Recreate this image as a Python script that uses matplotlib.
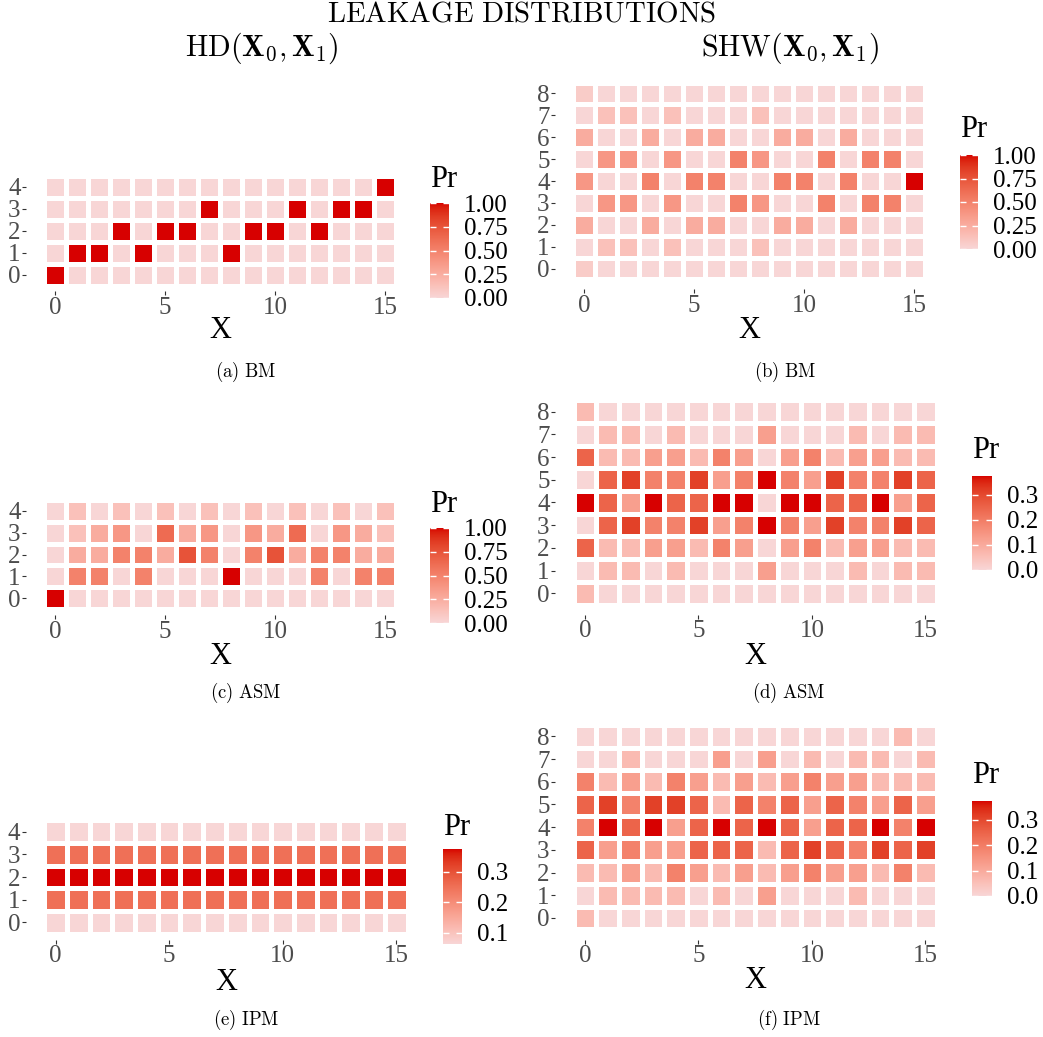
import numpy as np
import matplotlib
matplotlib.use("Agg")
import matplotlib.pyplot as plt
from matplotlib.colors import ListedColormap, Normalize
from matplotlib.colorbar import ColorbarBase

plt.rcParams['mathtext.fontset'] = 'cm'
plt.rcParams['font.family'] = ['Liberation Serif', 'DejaVu Serif']

# ---------------- data ----------------
x_values = list(range(16))
x_ticks = [0, 5, 10, 15]

hd_bm = [
    [1, 0, 0, 0, 0, 0, 0, 0, 0, 0, 0, 0, 0, 0, 0, 0],
    [0, 1, 1, 0, 1, 0, 0, 0, 1, 0, 0, 0, 0, 0, 0, 0],
    [0, 0, 0, 1, 0, 1, 1, 0, 0, 1, 1, 0, 1, 0, 0, 0],
    [0, 0, 0, 0, 0, 0, 0, 1, 0, 0, 0, 1, 0, 1, 1, 0],
    [0, 0, 0, 0, 0, 0, 0, 0, 0, 0, 0, 0, 0, 0, 0, 1],
]

shw_bm = [
    [.0625, 0, 0, 0, 0, 0, 0, 0, 0, 0, 0, 0, 0, 0, 0, 0],
    [0, .125, .125, 0, .125, 0, 0, 0, .125, 0, 0, 0, 0, 0, 0, 0],
    [.25, 0, 0, .25, 0, .25, .25, 0, 0, .25, .25, 0, .25, 0, 0, 0],
    [0, .375, .375, 0, .375, 0, 0, .5, .375, 0, 0, .5, 0, .5, .5, 0],
    [.375, 0, 0, .5, 0, .5, .5, 0, 0, .5, .5, 0, .5, 0, 0, 1],
    [0, .375, .375, 0, .375, 0, 0, .5, .375, 0, 0, .5, 0, .5, .5, 0],
    [.25, 0, 0, .25, 0, .25, .25, 0, 0, .25, .25, 0, .25, 0, 0, 0],
    [0, .125, .125, 0, .125, 0, 0, 0, .125, 0, 0, 0, 0, 0, 0, 0],
    [.0625, 0, 0, 0, 0, 0, 0, 0, 0, 0, 0, 0, 0, 0, 0, 0],
]

hd_asm = [
    [1, 0, 0, 0, 0, 0, 0, 0, 0, 0, 0, 0, 0, 0, 0, 0],
    [0, .5, .5, 0, .5, 0, 0, 0, 1, 0, 0, 0, .5, 0, .5, .5],
    [0, .25, .25, .5, .5, .25, .75, .5, 0, .5, .75, .25, .5, .5, .25, .25],
    [0, .125, .25, .375, 0, .625, .25, .375, 0, .375, .25, .625, 0, .375, .25, .125],
    [0, .125, 0, .125, 0, .125, 0, .125, 0, .125, 0, .125, 0, .125, 0, .125],
]

shw_asm = [
    [.0625, 0, 0, 0, 0, 0, 0, 0, 0, 0, 0, 0, 0, 0, 0, 0],
    [0, .0625, .0625, 0, .0625, 0, 0, 0, .125, 0, 0, 0, .0625, 0, .0625, .0625],
    [.25, .0625, .0625, .125, .125, .0625, .1875, .125, 0, .125, .1875, .0625, .125, .125, .0625, .0625],
    [0, .25, .3125, .1875, .1875, .3125, .125, .1875, .375, .1875, .125, .3125, .1875, .1875, .3125, .25],
    [.375, .25, .125, .375, .25, .25, .375, .375, 0, .375, .375, .25, .25, .375, .125, .25],
    [0, .25, .3125, .1875, .1875, .3125, .125, .1875, .375, .1875, .125, .3125, .1875, .1875, .3125, .25],
    [.25, .0625, .0625, .125, .125, .0625, .1875, .125, 0, .125, .1875, .0625, .125, .125, .0625, .0625],
    [0, .0625, .0625, 0, .0625, 0, 0, 0, .125, 0, 0, 0, .0625, 0, .0625, .0625],
    [.0625, 0, 0, 0, 0, 0, 0, 0, 0, 0, 0, 0, 0, 0, 0, 0],
]

hd_ipm = [
    [.0625, .0625, .0625, .0625, .0625, .0625, .0625, .0625, .0625, .0625, .0625, .0625, .0625, .0625, .0625, .0625],
    [.25, .25, .25, .25, .25, .25, .25, .25, .25, .25, .25, .25, .25, .25, .25, .25],
    [.375, .375, .375, .375, .375, .375, .375, .375, .375, .375, .375, .375, .375, .375, .375, .375],
    [.25, .25, .25, .25, .25, .25, .25, .25, .25, .25, .25, .25, .25, .25, .25, .25],
    [.0625, .0625, .0625, .0625, .0625, .0625, .0625, .0625, .0625, .0625, .0625, .0625, .0625, .0625, .0625, .0625],
]

shw_ipm = [
    [.0625, 0, 0, 0, 0, 0, 0, 0, 0, 0, 0, 0, 0, 0, 0, 0],
    [0, .0625, .0625, .0625, .0625, 0, .0625, 0, .125, 0, 0, 0, .0625, 0, 0, 0],
    [.0625, .0625, .125, .0625, .1875, .125, .0625, .125, .0625, .125, .1875, .125, .125, .0625, .1875, .0625],
    [.25, .125, .1875, .125, .125, .25, .25, .25, .0625, .25, .3125, .25, .1875, .3125, .25, .3125],
    [.1875, .375, .25, .375, .125, .25, .375, .25, .375, .25, .125, .25, .25, .375, .1875, .375],
    [.25, .3125, .1875, .3125, .3125, .25, .0625, .25, .1875, .25, .125, .25, .1875, .125, .25, .125],
    [.1875, .0625, .125, .0625, .1875, .125, .0625, .125, .0625, .125, .1875, .125, .125, .0625, .0625, .0625],
    [0, 0, .0625, 0, 0, 0, .125, 0, .125, 0, .0625, 0, .0625, .0625, 0, .0625],
    [0, 0, 0, 0, 0, 0, 0, 0, 0, 0, 0, 0, 0, 0, .0625, 0],
]

cb_ticks_100 = [0, 0.25, 0.5, 0.75, 1.0]
cb_labels_100 = ["0.00", "0.25", "0.50", "0.75", "1.00"]
cb_ticks_03 = [0, 0.1, 0.2, 0.3]
cb_labels_03 = ["0.0", "0.1", "0.2", "0.3"]
cb_ticks_e = [0.1, 0.2, 0.3]
cb_labels_e = ["0.1", "0.2", "0.3"]

caption_letters = ["a", "b", "c", "d", "e", "f"]
caption_names = ["BM", "BM", "ASM", "ASM", "IPM", "IPM"]

# ---------------- colour map (Lab interpolation like ggplot) ----------------
def _srgb_to_lin(c):
    c = np.asarray(c, float)
    return np.where(c <= 0.04045, c / 12.92, ((c + 0.055) / 1.055) ** 2.4)

def _lin_to_srgb(c):
    c = np.clip(c, 0, 1)
    return np.where(c <= 0.0031308, 12.92 * c, 1.055 * c ** (1 / 2.4) - 0.055)

M = np.array([[0.4124, 0.3576, 0.1805], [0.2126, 0.7152, 0.0722], [0.0193, 0.1192, 0.9505]])
WP = np.array([0.95047, 1.0, 1.08883])

def rgb2lab(rgb):
    xyz = M @ _srgb_to_lin(rgb) / WP
    f = np.where(xyz > 216 / 24389, np.cbrt(xyz), (24389 / 27 * xyz + 16) / 116)
    return np.array([116 * f[1] - 16, 500 * (f[0] - f[1]), 200 * (f[1] - f[2])])

def lab2rgb(lab):
    L, a, b = lab
    fy = (L + 16) / 116
    fx = fy + a / 500
    fz = fy - b / 200
    f = np.array([fx, fy, fz])
    xyz = np.where(f ** 3 > 216 / 24389, f ** 3, (116 * f - 16) / (24389 / 27)) * WP
    return _lin_to_srgb(np.linalg.solve(M, xyz))

low = np.array([248, 214, 214]) / 255
high = np.array([215, 0, 0]) / 255
la, lb = rgb2lab(low), rgb2lab(high)
cols = [lab2rgb(la + (lb - la) * t) for t in np.linspace(0, 1, 256)]
cmap = ListedColormap(np.clip(cols, 0, 1))

# ---------------- figure ----------------
W, H = 1043, 1037
fig = plt.figure(figsize=(W / 100, H / 100), dpi=100)

def px_axes(l, t, r, b):
    return fig.add_axes([l / W, 1 - b / H, (r - l) / W, (b - t) / H])

panels = [
    dict(data=hd_bm, ax=(26.4, 170, 413.6, 291), cb=(430, 203, 449, 298), pr=(430, 187),
         xl=(220, 331), cap=(246, 372), ct=(cb_ticks_100, cb_labels_100)),
    dict(data=shw_bm, ax=(555.2, 72.7, 942.5, 289.3), cb=(960, 155, 978, 249), pr=(960, 137),
         xl=(749, 330), cap=(785, 372), ct=(cb_ticks_100, cb_labels_100)),
    dict(data=hd_asm, ax=(26.4, 494.1, 413.6, 614.9), cb=(430, 528, 449, 623), pr=(430, 512),
         xl=(220, 657), cap=(246, 693), ct=(cb_ticks_100, cb_labels_100)),
    dict(data=shw_asm, ax=(555.4, 390.1, 955, 614.8), cb=(972, 476, 992, 570), pr=(972, 458),
         xl=(755, 657), cap=(789, 693), ct=(cb_ticks_03, cb_labels_03)),
    dict(data=hd_ipm, ax=(26.1, 814.6, 425.7, 939.5), cb=(443, 849, 462, 944), pr=(443, 835),
         xl=(226, 983), cap=(246, 1020), ct=(cb_ticks_e, cb_labels_e)),
    dict(data=shw_ipm, ax=(555.4, 714.8, 955, 939.5), cb=(972, 801, 992, 896), pr=(972, 783),
         xl=(755, 981), cap=(789, 1020), ct=(cb_ticks_03, cb_labels_03)),
]

tick_fs = 18
for i, p in enumerate(panels):
    Z = np.array(p["data"], float)
    ny = Z.shape[0]
    norm = Normalize(vmin=Z.min(), vmax=Z.max())
    ax = px_axes(*p["ax"])
    xe = np.arange(len(x_values) + 1) - 0.5
    ye = np.arange(ny + 1) - 0.5
    ax.pcolormesh(xe, ye, Z, cmap=cmap, norm=norm, edgecolors="white", linewidth=3.4)
    ax.set_xlim(-1.3, 16.3)
    ax.set_ylim(-0.5 - 0.05 * ny, ny - 0.5 + 0.05 * ny)
    ax.set_xticks(x_ticks)
    ax.set_yticks(range(ny))
    for s in ax.spines.values():
        s.set_visible(False)
    ax.tick_params(length=2.6, width=0.8, color="#333333", labelcolor="#4D4D4D",
                   labelsize=tick_fs, pad=1.5)
    fig.text(p["xl"][0] / W, 1 - p["xl"][1] / H, "X", fontsize=22, ha="center", va="center")
    cap = r"$\mathrm{(" + caption_letters[i] + r")\ " + caption_names[i] + "}$"
    fig.text(p["cap"][0] / W, 1 - p["cap"][1] / H, cap, fontsize=13.5, ha="center", va="center")
    # colourbar
    cax = px_axes(*p["cb"])
    cb = ColorbarBase(cax, cmap=cmap, norm=norm, orientation="vertical")
    cb.outline.set_visible(False)
    cb.set_ticks(p["ct"][0])
    cb.set_ticklabels(p["ct"][1])
    cax.tick_params(direction="in", color="white", length=4, width=1,
                    left=True, right=True, labelleft=False, labelright=True,
                    labelsize=tick_fs, pad=11)
    fig.text(p["pr"][0] / W, 1 - p["pr"][1] / H, "Pr", fontsize=22, ha="left", va="baseline")

fig.text(522 / W, 1 - 14 / H, r"$\mathrm{LEAKAGE\ DISTRIBUTIONS}$", fontsize=20.8, ha="center", va="center")
fig.text(262 / W, 1 - 48 / H, r"$\mathrm{HD}(\mathbf{X}_0,\mathbf{X}_1)$", fontsize=21.5, ha="center", va="center")
fig.text(790 / W, 1 - 48 / H, r"$\mathrm{SHW}(\mathbf{X}_0,\mathbf{X}_1)$", fontsize=21.5, ha="center", va="center")

fig.savefig("out.png", dpi=100)
